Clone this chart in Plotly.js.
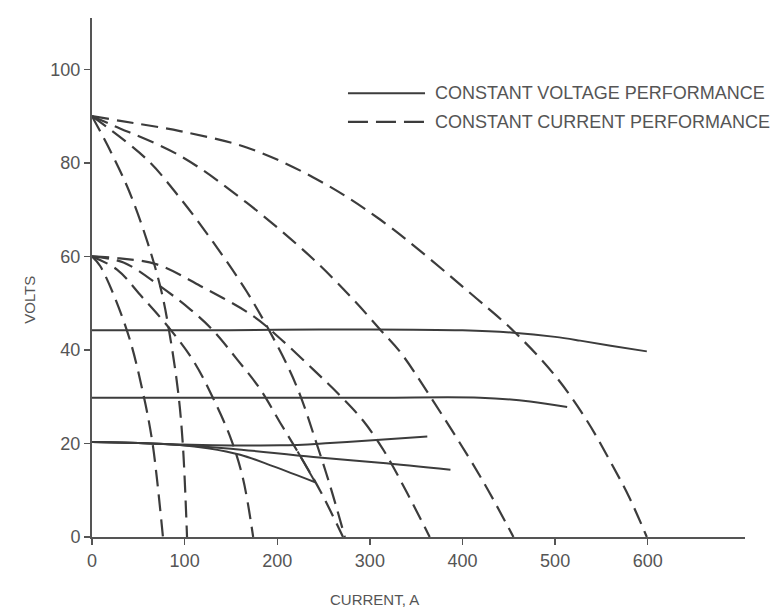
<!DOCTYPE html>
<html>
<head>
<meta charset="utf-8">
<script src="https://cdn.plot.ly/plotly-3.0.1.min.js"></script>
<style>html,body{margin:0;padding:0;background:#fff;}#chart{width:779px;height:612px;}</style>
</head>
<body>
<div id="chart"></div>
<script>
// ---- tick labels ----
var xTicks = [0, 100, 200, 300, 400, 500, 600];
var yTicks = [0, 20, 40, 60, 80, 100];

// ---- constant current performance (dashed), starting at 90 V ----
var cc90aX = [0, 20, 40, 60, 75, 85, 93, 98, 102.6];
var cc90aY = [90, 82.5, 74, 63, 52.5, 42, 31, 20, 0];
var cc90bX = [0, 59, 95, 131, 167, 189, 210.6, 225, 240, 257, 273];
var cc90bY = [90, 80.8, 72.5, 63, 52.5, 45, 36.8, 30.2, 21.5, 11, 0];
var cc90cX = [0, 23, 95.4, 167, 239, 282, 311, 333, 365, 419, 455];
var cc90cY = [90, 88, 81.5, 71.5, 59.4, 50.8, 44.4, 39.5, 30.1, 13, 0];
var cc90dX = [0, 30.6, 95, 167, 239, 311, 415.8, 457, 500, 534, 560, 580, 599];
var cc90dY = [90, 89, 86.8, 83.3, 76.9, 67.9, 50.9, 43.7, 34.5, 25, 16, 8.5, 0];

// ---- constant current performance (dashed), starting at 60 V ----
var cc60aX = [0, 9, 38, 56, 65, 70.2, 76.6];
var cc60aY = [60, 57.9, 44, 30, 20.5, 12.3, 0];
var cc60bX = [0, 27, 52, 84.5, 110, 130, 150, 163, 174];
var cc60bY = [60, 57.2, 51.8, 44.4, 37.5, 30, 21, 12.5, 0];
var cc60cX = [0, 34, 73.8, 106, 129.6, 156.6, 182, 203, 221, 246.6, 271];
var cc60cY = [60, 58.7, 53.6, 48.7, 44.4, 38, 31.5, 24.5, 18.6, 9.8, 0];
var cc60dX = [0, 30, 70, 117, 174.5, 200, 239, 268, 293, 315, 340, 364.6];
var cc60dY = [60, 59.6, 58.3, 53.7, 47.2, 43, 35.8, 30.2, 24.8, 18.5, 9.5, 0];

// ---- constant voltage performance (solid) ----
var cv43X = [0, 100, 200, 300, 400, 455, 500, 527, 560, 599];
var cv43Y = [44.2, 44.2, 44.3, 44.4, 44.2, 43.7, 42.8, 42.0, 40.9, 39.7];
var cv29X = [0, 100, 200, 311, 419, 473, 513];
var cv29Y = [29.8, 29.8, 29.8, 29.8, 29.8, 29.0, 27.8];
var cv20upX = [0, 50, 95, 203, 257, 311, 362];
var cv20upY = [20.3, 20.1, 19.8, 19.6, 20.1, 20.8, 21.5];
var cv20midX = [0, 50, 95, 150, 239, 311, 387];
var cv20midY = [20.3, 20.1, 19.7, 18.9, 17.1, 15.9, 14.4];
var cv20lowX = [0, 50, 95, 125, 160, 196, 241];
var cv20lowY = [20.3, 20.1, 19.7, 19.0, 17.6, 15.1, 11.7];
var cv20retX = [241, 222];
var cv20retY = [11.7, 18.3];

var legendLabels = ['CONSTANT VOLTAGE PERFORMANCE', 'CONSTANT CURRENT PERFORMANCE'];
var xTitle = 'CURRENT, A';
var yTitle = 'VOLTS';

var lineColor = '#3c3c3c';
var textColor = '#555555';
var fontFamily = 'Liberation Sans, Arial, Helvetica, sans-serif';

function dashed(x, y) {
  return {x: x, y: y, type: 'scatter', mode: 'lines', hoverinfo: 'skip', showlegend: false,
    line: {color: lineColor, width: 2.2, dash: '17px,8px', shape: 'spline', smoothing: 1}};
}
function solid(x, y, shape) {
  return {x: x, y: y, type: 'scatter', mode: 'lines', hoverinfo: 'skip', showlegend: false,
    line: {color: lineColor, width: 2, shape: shape || 'spline', smoothing: 1}};
}

var data = [
  dashed(cc90aX, cc90aY), dashed(cc90bX, cc90bY), dashed(cc90cX, cc90cY), dashed(cc90dX, cc90dY),
  dashed(cc60aX, cc60aY), dashed(cc60bX, cc60bY), dashed(cc60cX, cc60cY), dashed(cc60dX, cc60dY),
  solid(cv43X, cv43Y), solid(cv29X, cv29Y), solid(cv20upX, cv20upY), solid(cv20midX, cv20midY),
  solid(cv20lowX, cv20lowY), solid(cv20retX, cv20retY, 'linear')
];

var layout = {
  width: 779, height: 612,
  margin: {l: 92, r: 34, t: 18, b: 75},
  paper_bgcolor: '#ffffff', plot_bgcolor: '#ffffff',
  font: {family: fontFamily, color: textColor, size: 18},
  xaxis: {range: [0, 705], tickvals: xTicks, ticktext: xTicks.map(String), showgrid: false, zeroline: false,
    showline: true, linecolor: '#555', linewidth: 2, ticks: 'outside', ticklen: 6, tickwidth: 1.5, tickcolor: '#555',
    tickfont: {size: 18, color: textColor, family: fontFamily}, fixedrange: true},
  yaxis: {range: [0, 111], tickvals: yTicks, ticktext: yTicks.map(String), showgrid: false, zeroline: false,
    showline: true, linecolor: '#555', linewidth: 2, ticks: 'outside', ticklen: 6, tickwidth: 1.5, tickcolor: '#555',
    tickfont: {size: 18, color: textColor, family: fontFamily}, fixedrange: true},
  shapes: [
    {type: 'line', xref: 'paper', yref: 'paper', x0: 0.392, x1: 0.510, y0: 0.855, y1: 0.855,
      line: {color: lineColor, width: 2}},
    {type: 'line', xref: 'paper', yref: 'paper', x0: 0.392, x1: 0.510, y0: 0.800, y1: 0.800,
      line: {color: lineColor, width: 2.2, dash: '20px,8px'}}
  ],
  annotations: [
    {xref: 'paper', yref: 'paper', x: 0.522, y: 0.855, xanchor: 'left', yanchor: 'middle', showarrow: false,
      text: legendLabels[0], font: {size: 18, color: textColor, family: fontFamily}},
    {xref: 'paper', yref: 'paper', x: 0.522, y: 0.800, xanchor: 'left', yanchor: 'middle', showarrow: false,
      text: legendLabels[1], font: {size: 18, color: textColor, family: fontFamily}},
    {xref: 'paper', yref: 'paper', x: 0.433, y: -0.121, xanchor: 'center', yanchor: 'middle', showarrow: false,
      text: xTitle, font: {size: 15, color: textColor, family: fontFamily}},
    {xref: 'paper', yref: 'paper', x: -0.095, y: 0.457, xanchor: 'center', yanchor: 'middle', showarrow: false,
      textangle: -90, text: yTitle, font: {size: 15, color: textColor, family: fontFamily}}
  ]
};

Plotly.newPlot('chart', data, layout, {staticPlot: true, displayModeBar: false});
</script>
</body>
</html>
